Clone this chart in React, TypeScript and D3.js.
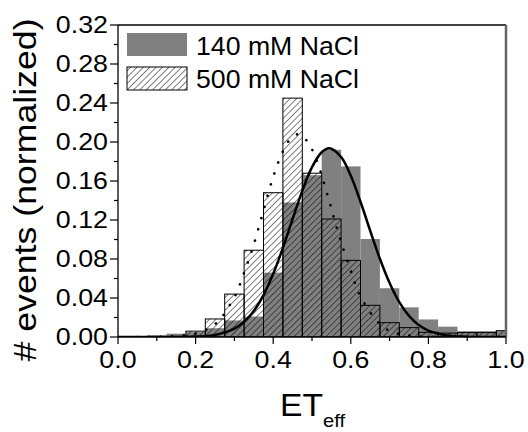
import React from "react";
import * as d3 from "d3";

// Histogram bin centres (bin width 0.05)
const binCenters = [0.05, 0.1, 0.15, 0.2, 0.25, 0.3, 0.35, 0.4, 0.45, 0.5, 0.55, 0.6, 0.65, 0.7, 0.75, 0.8, 0.85, 0.9, 0.95, 1.0];
// 140 mM NaCl (solid grey)
const nacl140 = [0.0007, 0.0017, 0.0034, 0.005, 0.009, 0.017, 0.021, 0.066, 0.138, 0.166, 0.192, 0.175, 0.1005, 0.05, 0.0304, 0.018, 0.0106, 0.006, 0.006, 0.006];
// 500 mM NaCl (hatched)
const nacl500 = [0, 0, 0, 0.006, 0.0185, 0.044, 0.089, 0.148, 0.245, 0.168, 0.121, 0.0786, 0.0325, 0.0147, 0.0096, 0.0048, 0.004, 0.0045, 0.0045, 0.0065];

// Fit curve for 140 mM (solid line)
const fit140X = [0.0, 0.1, 0.2, 0.25, 0.3, 0.325, 0.35, 0.375, 0.4, 0.425, 0.45, 0.475, 0.5, 0.525, 0.545, 0.575, 0.6, 0.625, 0.65, 0.675, 0.7, 0.725, 0.75, 0.775, 0.8, 0.85, 0.9, 1.0];
const fit140Y = [0, 0, 0.0004, 0.0021, 0.0085, 0.0156, 0.0267, 0.043, 0.0648, 0.0914, 0.121, 0.1499, 0.1742, 0.1895, 0.1935, 0.1846, 0.1653, 0.1387, 0.109, 0.0803, 0.0554, 0.0358, 0.0217, 0.0123, 0.0066, 0.0015, 0.0003, 0];

// Fit curve for 500 mM (dotted line)
const fit500X = [0.05, 0.1, 0.15, 0.203, 0.235, 0.263, 0.284, 0.302, 0.325, 0.347, 0.373, 0.399, 0.421, 0.44, 0.465, 0.49, 0.516, 0.544, 0.57, 0.6, 0.622, 0.66, 0.688, 0.718, 0.76, 0.82, 0.9];
const fit500Y = [0, 0.0002, 0.001, 0.0038, 0.0089, 0.018, 0.0304, 0.042, 0.066, 0.091, 0.127, 0.163, 0.1867, 0.201, 0.208, 0.1995, 0.1764, 0.1398, 0.1036, 0.0677, 0.0441, 0.02, 0.0089, 0.0038, 0.001, 0.0002, 0];

const yTicks = [0, 0.04, 0.08, 0.12, 0.16, 0.2, 0.24, 0.28, 0.32];
const yMinor = [0.02, 0.06, 0.1, 0.14, 0.18, 0.22, 0.26, 0.3];
const xTicks = [0, 0.2, 0.4, 0.6, 0.8, 1.0];
const xMinor = [0.1, 0.3, 0.5, 0.7, 0.9];
const legendLabels = ["140 mM NaCl", "500 mM NaCl"];

const W = 528, H = 432;
const L = 118, R = 506, T = 25, B = 337;
const FONT = "'Liberation Sans', Arial, sans-serif";

function em(s: string) {
  let w = 0;
  for (const c of s) {
    if (c === "." || c === " ") w += 0.278;
    else w += 0.556;
  }
  return w;
}

export default function App() {
  const x = d3.scaleLinear().domain([0, 1]).range([L, R]);
  const y = d3.scaleLinear().domain([0, 0.32]).range([B, T]);
  const half = 0.025;

  const line140 = d3.line<number>().x((_, i) => x(fit140X[i])).y((d) => y(d)).curve(d3.curveCatmullRom.alpha(0.5));
  const line500 = d3.line<number>().x((_, i) => x(fit500X[i])).y((d) => y(d)).curve(d3.curveCatmullRom.alpha(0.5));

  const bx0 = (c: number) => x(Math.max(0, c - half));
  const bx1 = (c: number) => x(Math.min(1, c + half));

  const tickFs = 23.5;
  const stretch = 1.14;

  return (
    <div style={{ position: "absolute", left: 0, top: 0 }}>
      <svg width={W} height={H} style={{ display: "block", background: "#fff" }}>
        <defs>
          <pattern id="hatch" patternUnits="userSpaceOnUse" width="4.5" height="4.5" patternTransform="rotate(45)">
            <line x1="0" y1="0" x2="0" y2="4.5" stroke="#000" strokeWidth="1" />
          </pattern>
          <clipPath id="plotClip">
            <rect x={L} y={T - 5} width={R - L} height={B - T + 5} />
          </clipPath>
        </defs>

        <g clipPath="url(#plotClip)">
          {binCenters.map((c, i) => (
            <rect key={"g" + i} x={bx0(c)} y={y(nacl140[i])} width={bx1(c) - bx0(c)} height={B - y(nacl140[i])} fill="#808080" />
          ))}
          {binCenters.map((c, i) =>
            nacl500[i] > 0 ? (
              <rect key={"h" + i} x={bx0(c)} y={y(nacl500[i])} width={bx1(c) - bx0(c)} height={B - y(nacl500[i])} fill="url(#hatch)" stroke="#000" strokeWidth={1} />
            ) : null
          )}
          <path d={line500(fit500Y) || ""} fill="none" stroke="#000" strokeWidth={2.6} strokeLinecap="round" strokeDasharray="0.1 11.5" />
          <path d={line140(fit140Y) || ""} fill="none" stroke="#000" strokeWidth={2.5} />
        </g>

        {/* frame */}
        <line x1={L} y1={T} x2={R} y2={T} stroke="#000" strokeWidth={1.3} />
        <line x1={R} y1={T} x2={R} y2={B} stroke="#666" strokeWidth={2.5} />
        <line x1={L} y1={T} x2={L} y2={B} stroke="#000" strokeWidth={1.3} />
        <line x1={L} y1={B} x2={R} y2={B} stroke="#000" strokeWidth={1.3} />

        {/* y ticks */}
        {yTicks.map((t) => (
          <g key={"yt" + t}>
            <line x1={L - 8} x2={L} y1={y(t)} y2={y(t)} stroke="#000" strokeWidth={1.2} />
            <text x={108} y={y(t) + 8.3} textAnchor="end" fontFamily={FONT} fontSize={tickFs}
              textLength={em(t.toFixed(2)) * tickFs * stretch} lengthAdjust="spacingAndGlyphs">{t.toFixed(2)}</text>
          </g>
        ))}
        {yMinor.map((t) => (
          <line key={"ym" + t} x1={L - 4} x2={L} y1={y(t)} y2={y(t)} stroke="#000" strokeWidth={1.2} />
        ))}

        {/* x ticks */}
        {xTicks.map((t) => (
          <g key={"xt" + t}>
            <line x1={x(t)} x2={x(t)} y1={B} y2={B + 7} stroke="#000" strokeWidth={1.2} />
            <text x={x(t)} y={368} textAnchor="middle" fontFamily={FONT} fontSize={tickFs}
              textLength={em(t.toFixed(1)) * tickFs * stretch} lengthAdjust="spacingAndGlyphs">{t.toFixed(1)}</text>
          </g>
        ))}
        {xMinor.map((t) => (
          <line key={"xm" + t} x1={x(t)} x2={x(t)} y1={B} y2={B + 4} stroke="#000" strokeWidth={1.2} />
        ))}

        {/* legend */}
        <rect x={127} y={33} width={60} height={23} fill="#808080" />
        <rect x={127} y={67} width={60} height={23} fill="url(#hatch)" stroke="#000" strokeWidth={1} />
        <text x={196} y={54.5} fontFamily={FONT} fontSize={25} textLength={163} lengthAdjust="spacingAndGlyphs">{legendLabels[0]}</text>
        <text x={196} y={87.5} fontFamily={FONT} fontSize={25} textLength={163} lengthAdjust="spacingAndGlyphs">{legendLabels[1]}</text>

        {/* axis titles */}
        <text transform="translate(35.5,190) rotate(-90)" textAnchor="middle" fontFamily={FONT} fontSize={31}
          textLength={343} lengthAdjust="spacingAndGlyphs"># events (normalized)</text>
        <text x={280} y={416} fontFamily={FONT} fontSize={32} textLength={43} lengthAdjust="spacingAndGlyphs">ET</text>
        <text x={323} y={427} fontFamily={FONT} fontSize={19} textLength={22} lengthAdjust="spacingAndGlyphs">eff</text>
      </svg>
    </div>
  );
}
